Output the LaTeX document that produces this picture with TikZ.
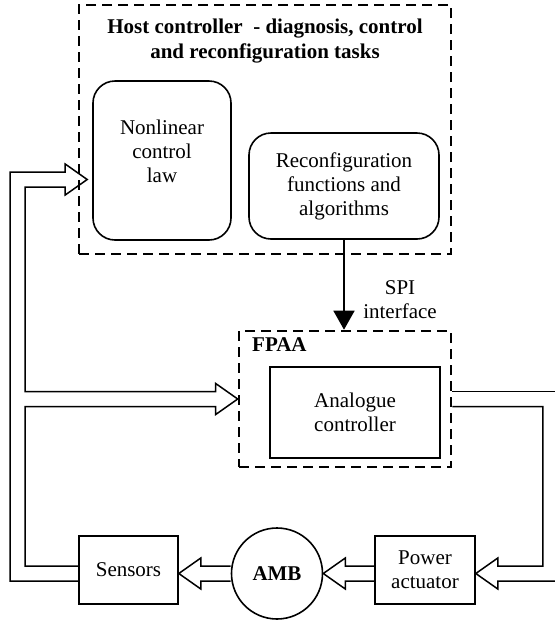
\documentclass[tikz,border=0pt]{standalone}
\usepackage{fontspec}
\setmainfont{Liberation Serif}
\usetikzlibrary{arrows.meta,positioning,calc}
\tikzset{
  box/.style        = {draw, line width=1.6pt, inner sep=2pt, align=center},
  rbox/.style       = {box, rounded corners=22pt},
  frame/.style      = {draw, line width=2.6pt, dash pattern=on 10pt off 6pt},
  fat/.style        = {line width=1.5pt, line join=miter},
  sig/.style        = {-{Triangle[length=19pt, width=21pt]}, line width=1.6pt},
  every node/.style = {font=\fontsize{21}{24}\selectfont},
  hdr/.style        = {font=\fontsize{21}{25}\selectfont\bfseries, align=center, inner sep=0pt},
}
% hollow block arrow: #1 tail, #2 tip, #3 = 1 (right) or -1 (left)
\newcommand{\fatarrow}[3]{%
  \draw[fat] ($(#1)+(0,-7.5)$) -- ($(#2)+(-22*#3,-7.5)$) -- ($(#2)+(-22*#3,-15.5)$)
    -- (#2) -- ($(#2)+(-22*#3,15.5)$) -- ($(#2)+(-22*#3,7.5)$) -- ($(#1)+(0,7.5)$);}

\begin{document}
\begin{tikzpicture}[x=1pt, y=-1pt]
  \useasboundingbox (0,0) rectangle (555,625);

  \node[frame, minimum width=372pt, minimum height=249pt] (host) at (265,129.5) {};
  \node[hdr] (hosttitle) at (265,41) {Host controller~ - diagnosis, control\\and reconfiguration tasks};
  \node[rbox, minimum width=138pt, minimum height=159pt] (law) at (162,160.5) {};
  \node[align=center] (lawtext) at (162,151) {Nonlinear\\control\\law};
  \node[rbox, minimum width=190pt, minimum height=106pt] (reconf) at (344,186) {Reconfiguration\\functions and\\algorithms};

  \node[frame, minimum width=212pt, minimum height=136pt] (fpaa) at (345,399) {};
  \node[hdr, anchor=west] (fpaatitle) at (252,345) {FPAA};
  \node[box, minimum width=170pt, minimum height=91pt] (ctrl) at (355,412.5) {Analogue\\controller};

  \node[box, minimum width=99pt, minimum height=68pt] (sensors) at (128.5,570) {Sensors};
  \node[box, circle, minimum size=91pt, font=\fontsize{21}{24}\selectfont\bfseries] (amb) at (277,573.5) {AMB};
  \node[box, minimum width=100pt, minimum height=68pt] (power) at (425,570) {Power\\actuator};

  \draw[sig] (reconf.south) -- (reconf.south |- fpaa.north);
  \node[align=center] (spi) at (400,300) {SPI\\interface};

  \coordinate (s_in)   at (sensors.east |- amb.center);
  \coordinate (s_out)  at (sensors.west |- amb.center);
  \coordinate (p_out)  at (power.west |- amb.center);
  \coordinate (p_in)   at (power.east |- amb.center);
  \coordinate (lawin)  at ($(law.west)+(-5,19)$);
  \coordinate (fpaain) at (fpaa.west);
  \coordinate (loopout) at (10,0);
  \coordinate (loopin)  at (25,0);
  \coordinate (rim)     at (556,0);

  \fatarrow{amb.west}{s_in}{-1}
  \fatarrow{p_out}{amb.east}{-1}

  % feedback from the sensors to both controllers
  \draw[fat] ($(s_out)+(0,7.5)$) -| ($(loopout |- lawin)+(0,-7.5)$) -- ($(lawin)+(-22,-7.5)$)
    -- ($(lawin)+(-22,-15.5)$) -- (lawin) -- ($(lawin)+(-22,15.5)$) -- ($(lawin)+(-22,7.5)$)
    -| ($(loopin |- fpaain)+(0,-7.5)$) -- ($(fpaain)+(-22,-7.5)$)
    -- ($(fpaain)+(-22,-15.5)$) -- (fpaain) -- ($(fpaain)+(-22,15.5)$) -- ($(fpaain)+(-22,7.5)$)
    -| ($(loopin |- s_out)+(0,-7.5)$) -- ($(s_out)+(0,-7.5)$);

  % control output to the power actuator
  \draw[fat] ($(fpaa.east)+(0,-7.5)$) -- ($(rim |- fpaa.east)+(0,-7.5)$);
  \draw[fat] ($(fpaa.east)+(0,7.5)$) -| ($(p_in)+(67,-7.5)$) -- ($(p_in)+(22,-7.5)$)
    -- ($(p_in)+(22,-15.5)$) -- (p_in) -- ($(p_in)+(22,15.5)$) -- ($(p_in)+(22,7.5)$)
    -- ($(rim |- p_in)+(0,7.5)$);
\end{tikzpicture}
\end{document}
